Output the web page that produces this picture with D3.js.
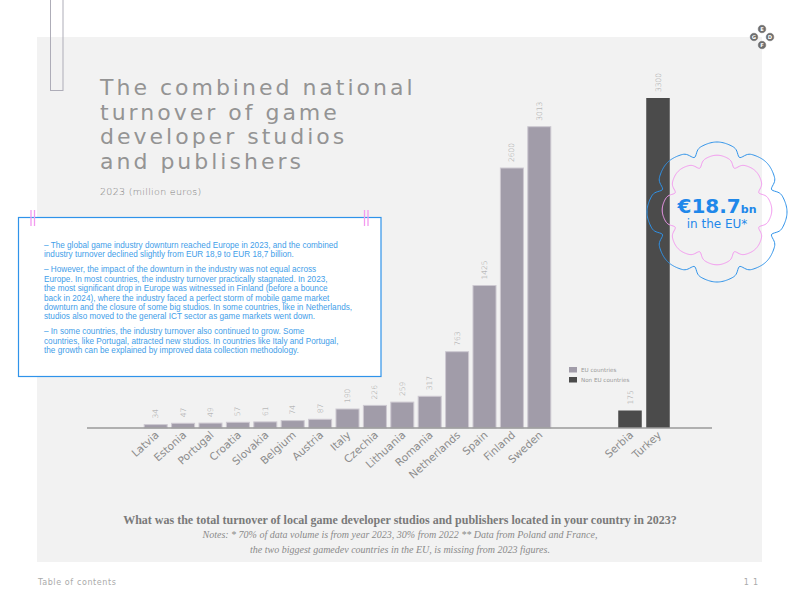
<!DOCTYPE html>
<html>
<head>
<meta charset="utf-8">
<script src="https://cdn.jsdelivr.net/npm/d3@7"></script>
<style>
  html, body { margin: 0; padding: 0; background: #fff; }
  svg { display: block; }
</style>
</head>
<body>
<svg id="chart" width="800" height="600"></svg>
<script>
// Data
const euCountries = ['Latvia', 'Estonia', 'Portugal', 'Croatia', 'Slovakia', 'Belgium', 'Austria', 'Italy', 'Czechia', 'Lithuania', 'Romania', 'Netherlands', 'Spain', 'Finland', 'Sweden'];
const euValues = [34, 47, 49, 57, 61, 74, 87, 190, 226, 259, 317, 763, 1425, 2600, 3013];
const nonEuCountries = ['Serbia', 'Turkey'];
const nonEuValues = [175, 3300];
const legendLabels = ['EU countries', 'Non EU countries'];

const titleLines = ['The combined national', 'turnover of game', 'developer studios', 'and publishers'];
const boxParagraphs = [
    ['– The global game industry downturn reached Europe in 2023, and the combined',
     'industry turnover declined slightly from EUR 18,9 to EUR 18,7 billion.'],
    ['– However, the impact of the downturn in the industry was not equal across',
     'Europe. In most countries, the industry turnover practically stagnated. In 2023,',
     'the most significant drop in Europe was witnessed in Finland (before a bounce',
     'back in 2024), where the industry faced a perfect storm of mobile game market',
     'downturn and the closure of some big studios. In some countries, like in Netherlands,',
     'studios also moved to the general ICT sector as game markets went down.'],
    ['– In some countries, the industry turnover also continued to grow. Some',
     'countries, like Portugal, attracted new studios. In countries like Italy and Portugal,',
     'the growth can be explained by improved data collection methodology.']
];

const euColor = '#a19ca9';
const nonEuColor = '#4b4b4b';
const blue = '#2f93ea';
const pink = '#f39af0';

const svg = d3.select('#chart');

// page background + panel
svg.append('rect').attr('width', 800).attr('height', 600).attr('fill', '#fff');
svg.append('rect').attr('x', 37).attr('y', 37).attr('width', 725).attr('height', 525).attr('fill', '#f2f2f2');

// bracket top-left
svg.append('rect').attr('x', 50.5).attr('y', -2).attr('width', 12.5).attr('height', 92.5)
    .attr('fill', 'none').attr('stroke', '#aeadb8').attr('stroke-width', 1);

// title
const title = svg.append('text')
    .attr('x', 100).attr('y', 95)
    .style('font-family', 'DejaVu Sans')
    .style('font-size', '22px')
    .style('letter-spacing', '3px')
    .attr('fill', '#949494');
titleLines.forEach((line, i) => {
    title.append('tspan').attr('x', 100).attr('dy', i === 0 ? 0 : 24.6).text(line);
});
svg.append('text').attr('x', 100).attr('y', 195)
    .style('font-family', 'DejaVu Sans').style('font-weight', 300).style('font-size', '9.5px')
    .style('letter-spacing', '0.3px')
    .attr('fill', '#7e7e7e').text('2023 (million euros)');

// scales
const y = d3.scaleLinear().domain([0, 3300]).range([428, 98]);
const xEu = d3.scaleBand().domain(euCountries).range([142, 553]).paddingInner(0.16).paddingOuter(0.08);
const xNon = d3.scaleBand().domain(nonEuCountries).range([616, 672]).paddingInner(0.16).paddingOuter(0.08);

const euData = euCountries.map((c, i) => ({ name: c, value: euValues[i], x: xEu, color: euColor, stroke: '#cdc9d1' }));
const nonData = nonEuCountries.map((c, i) => ({ name: c, value: nonEuValues[i], x: xNon, color: nonEuColor, stroke: 'none' }));
const allData = euData.concat(nonData);

// bars
svg.append('g').selectAll('rect')
    .data(allData)
    .enter()
    .append('rect')
    .attr('x', d => d.x(d.name))
    .attr('y', d => y(d.value))
    .attr('width', d => d.x.bandwidth())
    .attr('height', d => y(0) - y(d.value))
    .attr('fill', d => d.color)
    .attr('stroke', d => d.stroke)
    .attr('stroke-width', 1);

// baseline
svg.append('line').attr('x1', 87).attr('x2', 712).attr('y1', y(0)).attr('y2', y(0))
    .attr('stroke', '#9a9a9a').attr('stroke-width', 1.5);

// value labels
svg.append('g').selectAll('text')
    .data(allData)
    .enter()
    .append('text')
    .attr('transform', d => `translate(${d.x(d.name) + d.x.bandwidth() / 2 + 2.5},${y(d.value) - 6}) rotate(-90)`)
    .style('font-family', 'DejaVu Sans')
    .style('font-weight', 300)
    .style('font-size', '7.5px')
    .attr('fill', '#a3a3a3')
    .text(d => d.value);

// country labels
svg.append('g').selectAll('text')
    .data(allData)
    .enter()
    .append('text')
    .attr('transform', d => `translate(${d.x(d.name) + d.x.bandwidth() / 2 + 4},${436}) rotate(-42)`)
    .attr('text-anchor', 'end')
    .style('font-family', 'DejaVu Sans')
    .style('font-size', '10.6px')
    .attr('fill', '#8c8c8c')
    .text(d => d.name);

// legend
const legend = svg.append('g').attr('transform', 'translate(569,367)');
legendLabels.forEach((lab, i) => {
    legend.append('rect').attr('x', 0).attr('y', i * 10).attr('width', 8).attr('height', 5.5)
        .attr('fill', i === 0 ? euColor : nonEuColor);
    legend.append('text').attr('x', 12).attr('y', i * 10 + 5.2)
        .style('font-family', 'DejaVu Sans').style('font-size', '5.6px')
        .attr('fill', '#999').text(lab);
});

// text box
svg.append('rect').attr('x', 18.5).attr('y', 217.5).attr('width', 362.5).attr('height', 159)
    .attr('fill', '#fff').attr('stroke', blue).attr('stroke-width', 1.2);
[[31, 34.5], [364.5, 368]].forEach(pair => {
    pair.forEach(px => {
        svg.append('line').attr('x1', px).attr('x2', px).attr('y1', 210).attr('y2', 226)
            .attr('stroke', pink).attr('stroke-width', 1.3);
    });
});
const boxText = svg.append('text')
    .style('font-family', 'Liberation Sans')
    .style('font-size', '8.2px')
    .attr('fill', '#3f9ee9');
let ly = 248;
boxParagraphs.forEach(para => {
    para.forEach(line => {
        boxText.append('tspan').attr('x', 44).attr('y', ly).text(line);
        ly += 9.4;
    });
    ly += 5.6;
});

// badge
function flowerPath(R, depth, w, bulge) {
    const pts = d3.range(0, 360, 1).map(deg => {
        const a = deg * Math.PI / 180;
        let r = R + bulge * Math.cos(8 * a);
        for (let k = 0; k < 8; k++) {
            const notch = (22.5 + 45 * k) * Math.PI / 180;
            const diff = Math.atan2(Math.sin(a - notch), Math.cos(a - notch));
            r -= depth * Math.exp(-Math.pow(diff / w, 2));
        }
        return [a, r];
    });
    return d3.lineRadial().curve(d3.curveCardinalClosed)(pts);
}
const badge = svg.append('g').attr('transform', 'translate(717,212)');
badge.append('path').attr('d', flowerPath(68, 7, 0.075, 2)).attr('fill', 'none').attr('stroke', blue).attr('stroke-width', 1);
badge.append('path').attr('d', flowerPath(53, 6, 0.085, 1.8)).attr('transform', 'translate(0,-2)')
    .attr('fill', 'none').attr('stroke', pink).attr('stroke-width', 1);
const big = badge.append('text').attr('x', 0).attr('y', 1).attr('text-anchor', 'middle')
    .style('font-family', 'DejaVu Sans').style('font-weight', 'bold').attr('fill', '#1f88ea');
big.append('tspan').style('font-size', '20px').text('€18.7');
big.append('tspan').style('font-size', '11px').text('bn');
badge.append('text').attr('x', 0).attr('y', 16).attr('text-anchor', 'middle')
    .style('font-family', 'DejaVu Sans').style('font-size', '12px').attr('fill', '#1f88ea')
    .text('in the EU*');

// question + notes
svg.append('text').attr('x', 400).attr('y', 524).attr('text-anchor', 'middle')
    .style('font-family', 'Liberation Serif').style('font-weight', 'bold').style('font-size', '12px')
    .attr('fill', '#7a7a7a')
    .text('What was the total turnover of local game developer studios and publishers located in your country in 2023?');
svg.append('text').attr('x', 400).attr('y', 538).attr('text-anchor', 'middle')
    .style('font-family', 'Liberation Serif').style('font-style', 'italic').style('font-size', '10px')
    .attr('fill', '#8a8a8a')
    .text('Notes: * 70% of data volume is from year 2023, 30% from 2022  ** Data from Poland and France,');
svg.append('text').attr('x', 400).attr('y', 553).attr('text-anchor', 'middle')
    .style('font-family', 'Liberation Serif').style('font-style', 'italic').style('font-size', '10px')
    .attr('fill', '#8a8a8a')
    .text('the two biggest gamedev countries in the EU, is missing from 2023 figures.');

// footer
svg.append('text').attr('x', 38).attr('y', 585)
    .style('font-family', 'DejaVu Sans').style('font-size', '8px').style('letter-spacing', '0.6px')
    .attr('fill', '#aaa').text('Table of contents');
svg.append('text').attr('x', 762).attr('y', 585).attr('text-anchor', 'end')
    .style('font-family', 'DejaVu Sans').style('font-size', '8px').style('letter-spacing', '4px')
    .attr('fill', '#aaa').text('11');

// logo
const logo = [['E', 762, 29], ['G', 754, 37], ['D', 770, 37], ['F', 762, 45]];
logo.forEach(([ch, cx, cy]) => {
    svg.append('circle').attr('cx', cx).attr('cy', cy).attr('r', 4.3).attr('fill', '#6e6e6e')
        .attr('stroke', '#fff').attr('stroke-width', 0.6);
    svg.append('text').attr('x', cx).attr('y', cy + 1.9).attr('text-anchor', 'middle')
        .style('font-family', 'DejaVu Sans').style('font-weight', 'bold').style('font-size', '5.2px')
        .attr('fill', '#fff').text(ch);
});
</script>
</body>
</html>
